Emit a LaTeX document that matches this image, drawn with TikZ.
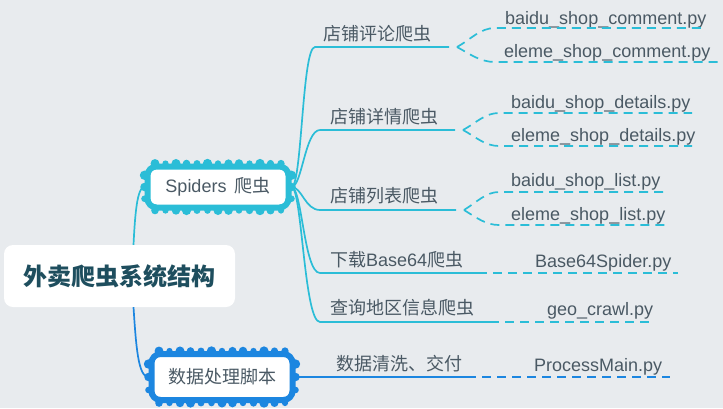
\documentclass[tikz,border=0pt]{standalone}
\usepackage{fontspec}
\setmainfont{Liberation Sans}
\newfontfamily\cjk{Noto Sans CJK SC}
\usetikzlibrary{calc}
\definecolor{bg}{HTML}{E8EBEE}
\definecolor{cy}{HTML}{2BBDD7}
\definecolor{bl}{HTML}{1C86E0}
\definecolor{tx}{HTML}{4A5964}
\definecolor{rt}{HTML}{1E4E5E}
\begin{document}
\begin{tikzpicture}[x=1pt,y=-1pt,
  lab/.style={font=\cjk\fontsize{18}{18}\selectfont, text=tx, inner sep=0pt, anchor=base west},
  leaf/.style={font=\fontsize{18}{18}\selectfont, text=tx, inner sep=0pt, anchor=base west},
  branch/.style={line width=1.7pt, draw=cy},
  dashbranch/.style={line width=1.7pt, draw=cy, dash pattern=on 9pt off 6pt},
  cloudbox/.style={fill=white, draw=#1, line width=6pt, rounded corners=9pt, inner sep=0pt},
]
\fill[bg] (0,0) rectangle (723,408);
\useasboundingbox (0,0) rectangle (723,408);

% root
\node[fill=white, rounded corners=9pt, minimum width=231pt, minimum height=62pt,
      font=\cjk\bfseries\fontsize{24}{24}\selectfont, text=rt, inner sep=0pt] (root) at (119.5,276) {外卖爬虫系统结构};

% main nodes
\node[cloudbox=cy, minimum width=141pt, minimum height=41pt,
      font=\fontsize{18}{18}\selectfont, text=tx] (spi) at (218,187) {Spiders\hspace{8pt}{\cjk 爬虫}};
\node[cloudbox=bl, minimum width=141pt, minimum height=46pt,
      font=\cjk\fontsize{18}{18}\selectfont, text=tx] (dat) at (222,377) {数据处理脚本};

% scalloped borders
\foreach \n/\c in {spi/cy, dat/bl} {
  \foreach \t in {1,...,13} {
    \pgfmathsetmacro\r{3.9+0.8*sin(\t*137)}
    \fill[\c] ($(\n.north west)!\t/14!(\n.north east)$) circle (\r pt);
    \pgfmathsetmacro\r{3.9+0.8*cos(\t*97)}
    \fill[\c] ($(\n.south west)!\t/14!(\n.south east)$) circle (\r pt);
  }
  \foreach \t in {1,...,3} {
    \pgfmathsetmacro\r{3.9+0.8*sin(\t*77)}
    \fill[\c] ($(\n.north west)!\t/4!(\n.south west)$) circle (\r pt);
    \fill[\c] ($(\n.north east)!\t/4!(\n.south east)$) circle (\r pt);
  }
}

% root connectors
\draw[branch] ([xshift=14pt]root.north) .. controls (135,215) and (137,187) .. (spi.west);
\draw[branch, draw=bl] ([xshift=14pt]root.south) .. controls (136,345) and (138,377) .. (dat.west);

% branch coordinates
\coordinate (k1a) at (315,47);  \coordinate (k1b) at (449,47);
\coordinate (k2a) at (320,130); \coordinate (k2b) at (455,130);
\coordinate (k3a) at (320,210); \coordinate (k3b) at (456,210);
\coordinate (k4a) at (320,273); \coordinate (k4b) at (478,273); \coordinate (k4c) at (678,273);
\coordinate (k5a) at (320,322); \coordinate (k5b) at (490,322); \coordinate (k5c) at (653,322);
\coordinate (k6b) at (467,377); \coordinate (k6c) at (670,377);

% branch labels
\node[lab] (b1) at (323,40) {店铺评论爬虫};
\node[lab] (b2) at (330,123) {店铺详情爬虫};
\node[lab] (b3) at (330,202) {店铺列表爬虫};
\node[lab] (b4) at (330,266) {下载{\fontspec{Liberation Sans}Base64}爬虫};
\node[lab] (b5) at (330,314) {查询地区信息爬虫};
\node[lab] (b6) at (336,370) {数据清洗、交付};

% branch lines
\draw[branch] (spi.east) .. controls (302,187) and (302,47) .. (k1a) -- (k1b);
\draw[branch] (spi.east) .. controls (302,187) and (305,130) .. (k2a) -- (k2b);
\draw[branch] (spi.east) .. controls (302,187) and (305,210) .. (k3a) -- (k3b);
\draw[branch] (spi.east) .. controls (302,187) and (304,273) .. (k4a) -- (k4b);
\draw[branch] (spi.east) .. controls (302,187) and (304,322) .. (k5a) -- (k5b);
\draw[branch, draw=bl] (dat.east) -- (k6b);

% leaf coordinates
\coordinate (l1a) at (495,28);  \coordinate (l1b) at (705,28);
\coordinate (l2a) at (495,62);  \coordinate (l2b) at (723,62);
\coordinate (l3a) at (499,113); \coordinate (l3b) at (692,113);
\coordinate (l4a) at (499,146); \coordinate (l4b) at (692,146);
\coordinate (l5a) at (499,192); \coordinate (l5b) at (668,192);
\coordinate (l6a) at (499,225); \coordinate (l6b) at (670,225);

% leaf texts
\node[leaf] (f1) at (505,24) {baidu\_shop\_comment.py};
\node[leaf] (f2) at (504,57) {eleme\_shop\_comment.py};
\node[leaf] (f3) at (511,108) {baidu\_shop\_details.py};
\node[leaf] (f4) at (511,141) {eleme\_shop\_details.py};
\node[leaf] (f5) at (511,186) {baidu\_shop\_list.py};
\node[leaf] (f6) at (511,220) {eleme\_shop\_list.py};
\node[leaf] (f7) at (535,267) {Base64Spider.py};
\node[leaf] (f8) at (547,315) {geo\_crawl.py};
\node[leaf] (f9) at (534,371) {ProcessMain.py};

% leaf connectors
\draw[dashbranch] ([xshift=8pt]k1b) .. controls (470,40) and (480,28) .. (l1a) -- (l1b);
\draw[dashbranch] ([xshift=8pt]k1b) .. controls (470,54) and (480,62) .. (l2a) -- (l2b);
\draw[dashbranch] ([xshift=8pt]k2b) .. controls (476,123) and (485,113) .. (l3a) -- (l3b);
\draw[dashbranch] ([xshift=8pt]k2b) .. controls (476,137) and (485,146) .. (l4a) -- (l4b);
\draw[dashbranch] ([xshift=8pt]k3b) .. controls (477,202) and (486,192) .. (l5a) -- (l5b);
\draw[dashbranch] ([xshift=8pt]k3b) .. controls (477,218) and (486,225) .. (l6a) -- (l6b);
\draw[dashbranch] (k4b) -- (k4c);
\draw[dashbranch] (k5b) -- (k5c);
\draw[dashbranch, draw=bl] (k6b) -- (k6c);
\end{tikzpicture}
\end{document}
